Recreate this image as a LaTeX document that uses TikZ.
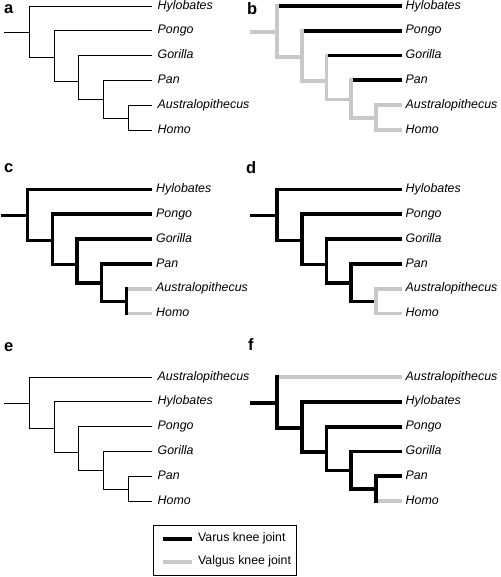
\documentclass[tikz,border=0pt]{standalone}
\usepackage{fontspec}
\setmainfont{Liberation Sans}
\definecolor{valg}{RGB}{200,200,200}
\tikzset{
  thinline/.style={draw=black,line width=0.9pt,line cap=rect},
  varus/.style={draw=black,line width=3.8pt,line cap=rect},
  valgus/.style={draw=valg,line width=3.8pt,line cap=rect},
  lab/.style={anchor=west,inner sep=0pt,text height=8.9pt,text depth=2.6pt,
    font=\fontsize{12.4}{14}\selectfont\itshape},
  legtext/.style={anchor=west,inner sep=0pt,text height=8.9pt,text depth=2.6pt,
    font=\fontsize{12.3}{14}\selectfont},
  letter/.style={anchor=base west,inner sep=0pt,font=\fontsize{16.5}{18}\selectfont\bfseries},
  legbox/.style={draw=black,line width=0.9pt,minimum width=143pt,minimum height=50pt,inner sep=0pt}
}
\newcommand\mktree[9]{%
  \begin{scope}[shift={(#2,#3)}]
    \coordinate (#1-r) at (4,32);
    \coordinate (#1-n1) at (29,32);
    \coordinate (#1-n2) at (54,57);
    \coordinate (#1-n3) at (78.5,81);
    \coordinate (#1-n4) at (103,99.5);
    \coordinate (#1-n5) at (128,118);
    \coordinate (#1-e1) at (152,6);
    \coordinate (#1-e2) at (152,30.8);
    \coordinate (#1-e3) at (152,55.6);
    \coordinate (#1-e4) at (152,80.4);
    \coordinate (#1-e5) at (152,105.2);
    \coordinate (#1-e6) at (152,130);
    \node[lab] (#1-t1) at ([xshift=5.5pt]#1-e1) {#4};
    \node[lab] (#1-t2) at ([xshift=5.5pt]#1-e2) {#5};
    \node[lab] (#1-t3) at ([xshift=5.5pt]#1-e3) {#6};
    \node[lab] (#1-t4) at ([xshift=5.5pt]#1-e4) {#7};
    \node[lab] (#1-t5) at ([xshift=5.5pt]#1-e5) {#8};
    \node[lab] (#1-t6) at ([xshift=5.5pt]#1-e6) {#9};
  \end{scope}}
\newcommand\treeedges[9]{%
  \draw[#2] (#1-r) -- (#1-n1);
  \draw[#2] (#1-n1 |- #1-n2) -- (#1-n2);
  \draw[#2] (#1-n2 |- #1-n3) -- (#1-n3);
  \draw[#2] (#1-n3 |- #1-n4) -- (#1-n4);
  \draw[#2] (#1-n4 |- #1-n5) -- (#1-n5);
  \draw[#4] (#1-n1 |- #1-e1) -- (#1-e1);
  \draw[#5] (#1-n2 |- #1-e2) -- (#1-e2);
  \draw[#6] (#1-n3 |- #1-e3) -- (#1-e3);
  \draw[#7] (#1-n4 |- #1-e4) -- (#1-e4);
  \draw[#8] (#1-n5 |- #1-e5) -- (#1-e5);
  \draw[#9] (#1-n5 |- #1-e6) -- (#1-e6);
  \draw[#2] (#1-n1 |- #1-e1) -- (#1-n1 |- #1-n2);
  \draw[#2] (#1-n2 |- #1-e2) -- (#1-n2 |- #1-n3);
  \draw[#2] (#1-n3 |- #1-e3) -- (#1-n3 |- #1-n4);
  \draw[#2] (#1-n4 |- #1-e4) -- (#1-n4 |- #1-n5);
  \draw[#3] (#1-n5 |- #1-e5) -- (#1-n5 |- #1-e6);}
\begin{document}
\begin{tikzpicture}[x=1pt,y=-1pt]
  \useasboundingbox (0,0) rectangle (500,577);
  % panel letters
  \node[letter] (La) at (4,14) {a};
  \node[letter] (Lb) at (247,15) {b};
  \node[letter] (Lc) at (4,173) {c};
  \node[letter] (Ld) at (246,174) {d};
  \node[letter] (Le) at (4,351) {e};
  \node[letter] (Lf) at (248,350) {f};
  % trees
  \mktree{a}{0}{0}{Hylobates}{Pongo}{Gorilla}{Pan}{Australopithecus}{Homo}
  \mktree{b}{248}{0}{Hylobates}{Pongo}{Gorilla}{Pan}{Australopithecus}{Homo}
  \mktree{c}{-1.5}{183.5}{Hylobates}{Pongo}{Gorilla}{Pan}{Australopithecus}{Homo}
  \mktree{d}{248}{183.5}{Hylobates}{Pongo}{Gorilla}{Pan}{Australopithecus}{Homo}
  \mktree{e}{0}{371}{Australopithecus}{Hylobates}{Pongo}{Gorilla}{Pan}{Homo}
  \mktree{f}{248}{371}{Australopithecus}{Hylobates}{Pongo}{Gorilla}{Pan}{Homo}
  \treeedges{a}{thinline}{thinline}{thinline}{thinline}{thinline}{thinline}{thinline}{thinline}
  \treeedges{b}{valgus}{valgus}{varus}{varus}{varus}{varus}{valgus}{valgus}
  \treeedges{c}{varus}{varus}{varus}{varus}{varus}{varus}{valgus}{valgus}
  \treeedges{d}{varus}{valgus}{varus}{varus}{varus}{varus}{valgus}{valgus}
  \treeedges{e}{thinline}{thinline}{thinline}{thinline}{thinline}{thinline}{thinline}{thinline}
  \treeedges{f}{varus}{varus}{valgus}{varus}{varus}{varus}{varus}{valgus}
  % legend
  \node[legbox] (leg) at (224.5,550) {};
  \coordinate (lg1a) at (165,539);
  \coordinate (lg1b) at (190,539);
  \coordinate (lg2a) at (165,562);
  \coordinate (lg2b) at (190,562);
  \draw[varus] (lg1a) -- (lg1b);
  \draw[valgus] (lg2a) -- (lg2b);
  \node[legtext] (lgt1) at (198,538.5) {Varus knee joint};
  \node[legtext] (lgt2) at (198,561.5) {Valgus knee joint};
\end{tikzpicture}
\end{document}
